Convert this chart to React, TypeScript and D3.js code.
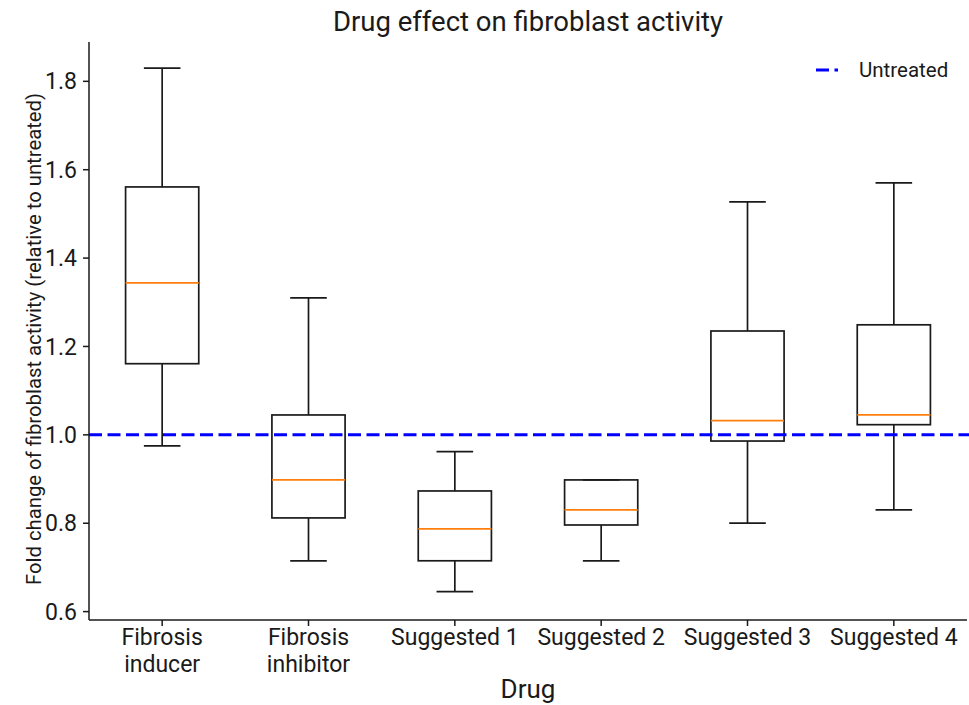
import React from "react";
import * as d3 from "d3";

const categories = ["Fibrosis inducer", "Fibrosis inhibitor", "Suggested 1", "Suggested 2", "Suggested 3", "Suggested 4"];
const tickLines = [["Fibrosis", "inducer"], ["Fibrosis", "inhibitor"], ["Suggested 1"], ["Suggested 2"], ["Suggested 3"], ["Suggested 4"]];
const whiskerLow = [0.975, 0.715, 0.645, 0.715, 0.8, 0.83];
const q1 = [1.161, 0.812, 0.715, 0.796, 0.986, 1.023];
const median = [1.344, 0.898, 0.787, 0.83, 1.032, 1.045];
const q3 = [1.561, 1.045, 0.873, 0.898, 1.235, 1.249];
const whiskerHigh = [1.83, 1.31, 0.962, 0.898, 1.527, 1.57];
const yTicks = [0.6, 0.8, 1.0, 1.2, 1.4, 1.6, 1.8];
const untreated = 1.0;

const W = 969, H = 705;
const left = 89, right = 967, top = 42, bottom = 620;
const FONT = "Roboto, 'Noto Sans', sans-serif";

export default function App() {
  const x = d3.scaleLinear().domain([0.5, categories.length + 0.5]).range([left, right]);
  const y = d3.scaleLinear().domain([0.581, 1.889]).range([bottom, top]);
  const step = x(2) - x(1);
  const bw = step * 0.5;
  const cw = step * 0.25;
  const dash = "13 5.5";
  return (
    <svg width={W} height={H} style={{ position: "absolute", left: 0, top: 0 }} fontFamily={FONT}>
      <rect width={W} height={H} fill="white" />
      <text x={(left + right) / 2} y={31} textAnchor="middle" fontSize={27.5} fill="#1a1a1a">Drug effect on fibroblast activity</text>
      {/* boxes */}
      {categories.map((c, i) => {
        const cx = x(i + 1);
        return (
          <g key={c} stroke="#1a1a1a" strokeWidth={1.7} fill="none">
            <line x1={cx} x2={cx} y1={y(q1[i])} y2={y(whiskerLow[i])} />
            <line x1={cx} x2={cx} y1={y(q3[i])} y2={y(whiskerHigh[i])} />
            <line x1={cx - cw / 2} x2={cx + cw / 2} y1={y(whiskerLow[i])} y2={y(whiskerLow[i])} />
            <line x1={cx - cw / 2} x2={cx + cw / 2} y1={y(whiskerHigh[i])} y2={y(whiskerHigh[i])} />
            <rect x={cx - bw / 2} width={bw} y={y(q3[i])} height={y(q1[i]) - y(q3[i])} />
            <line x1={cx - bw / 2} x2={cx + bw / 2} y1={y(median[i])} y2={y(median[i])} stroke="#ff7f0e" strokeWidth={1.7} />
          </g>
        );
      })}
      {/* untreated line */}
      <line x1={left} x2={W} y1={y(untreated)} y2={y(untreated)} stroke="#0000ff" strokeWidth={3} strokeDasharray={dash} />
      {/* axes */}
      <g stroke="#1a1a1a" strokeWidth={1.5}>
        <line x1={left} x2={left} y1={top} y2={bottom} />
        <line x1={left} x2={right} y1={bottom} y2={bottom} />
        {yTicks.map((t) => (
          <line key={t} x1={left - 6} x2={left} y1={y(t)} y2={y(t)} />
        ))}
        {categories.map((c, i) => (
          <line key={c} x1={x(i + 1)} x2={x(i + 1)} y1={bottom} y2={bottom + 6} />
        ))}
      </g>
      {yTicks.map((t) => (
        <text key={t} x={left - 12} y={y(t)} dy="0.35em" textAnchor="end" fontSize={23} fill="#1a1a1a">{t.toFixed(1)}</text>
      ))}
      {tickLines.map((lines, i) => (
        <text key={i} x={x(i + 1)} y={645} textAnchor="middle" fontSize={23} fill="#1a1a1a">
          {lines.map((l, j) => (
            <tspan key={j} x={x(i + 1)} dy={j === 0 ? 0 : 27}>{l}</tspan>
          ))}
        </text>
      ))}
      <text x={(left + right) / 2} y={698} textAnchor="middle" fontSize={26} fill="#1a1a1a">Drug</text>
      <text transform={`translate(41,${(top + bottom) / 2 + 8}) rotate(-90)`} textAnchor="middle" fontSize={20.3} fill="#1a1a1a">Fold change of fibroblast activity (relative to untreated)</text>
      {/* legend */}
      <line x1={816} x2={838} y1={70} y2={70} stroke="#0000ff" strokeWidth={3} strokeDasharray={dash} />
      <text x={859} y={70} dy="0.35em" fontSize={20.5} fill="#1a1a1a">Untreated</text>
    </svg>
  );
}
